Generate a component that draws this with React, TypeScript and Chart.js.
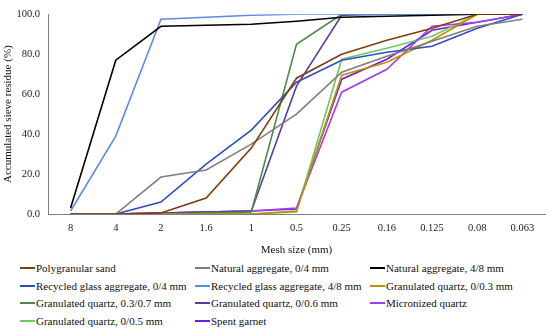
import React, { useEffect, useRef } from "react";
import { Chart, registerables } from "chart.js";

Chart.register(...registerables);

const categories = ["8", "4", "2", "1.6", "1", "0.5", "0.25", "0.16", "0.125", "0.08", "0.063"];
const yTicks = [0, 20, 40, 60, 80, 100];

const seriesNames = [
  "Polygranular sand",
  "Natural aggregate, 0/4 mm",
  "Natural aggregate, 4/8 mm",
  "Recycled glass aggregate, 0/4 mm",
  "Recycled glass aggregate, 4/8 mm",
  "Granulated quartz, 0/0.3 mm",
  "Granulated quartz, 0.3/0.7 mm",
  "Granulated quartz, 0/0.6 mm",
  "Micronized quartz",
  "Granulated quartz, 0/0.5 mm",
  "Spent garnet",
];

const polygranularSand = [0, 0, 0.5, 8, 33, 68, 80, 87, 93, 100, 100];
const naturalAgg04 = [0, 0, 18.5, 22, 35, 50, 71, 79, 86.5, 94, 97.5];
const naturalAgg48 = [3, 77, 94, 94.5, 95, 96.5, 98.5, 99, 99.5, 100, 100];
const recycledGlass04 = [0, 0, 6, 25, 42, 66, 77, 81, 84, 93, 100];
const recycledGlass48 = [1.5, 39, 97.5, 98.5, 99.5, 100, 100, 100, 100, 100, 100];
const granQuartz003 = [0, 0, 0, 0, 0, 1.5, 69.5, 76, 87, 100, 100];
const granQuartz0307 = [0, 0, 0, 0.5, 1, 85, 100, 100, 100, 100, 100];
const granQuartz006 = [0, 0, 0.5, 1, 1.5, 64, 99.5, 100, 100, 100, 100];
const micronizedQuartz = [0, 0, 0.5, 1, 1.5, 3, 61, 72.5, 94, 96, 100];
const granQuartz005 = [0, 0, 0, 0, 0, 1, 77.5, 83, 89, 100, 100];
const spentGarnet = [0, 0, 0.5, 1, 1.5, 2.5, 67.5, 77.5, 92, 96, 100];

const seriesValues = [
  polygranularSand,
  naturalAgg04,
  naturalAgg48,
  recycledGlass04,
  recycledGlass48,
  granQuartz003,
  granQuartz0307,
  granQuartz006,
  micronizedQuartz,
  granQuartz005,
  spentGarnet,
];

const seriesColors = [
  "#843C0C",
  "#7F7F7F",
  "#000000",
  "#2F4FBF",
  "#5A8CE6",
  "#BF9000",
  "#4C8A45",
  "#5E3A9E",
  "#A040E8",
  "#6CCB5F",
  "#6A1EF0",
];

const FONT = "'Liberation Serif', 'Times New Roman', serif";

export default function App() {
  const ref = useRef<HTMLCanvasElement | null>(null);

  useEffect(() => {
    if (!ref.current) return;
    const chart = new Chart(ref.current, {
      type: "line",
      data: {
        labels: categories,
        datasets: seriesValues.map((vals, i) => ({
          label: seriesNames[i],
          data: vals,
          borderColor: seriesColors[i],
          backgroundColor: seriesColors[i],
          borderWidth: 1.6,
          pointRadius: 0,
          tension: 0,
          fill: false,
        })),
      },
      options: {
        animation: false,
        responsive: false,
        maintainAspectRatio: false,
        layout: { padding: { top: 11, right: 5, left: 0, bottom: 0 } },
        plugins: { legend: { display: false }, tooltip: { enabled: false } },
        scales: {
          x: {
            offset: true,
            grid: { display: false, drawTicks: false },
            border: { display: true, color: "#808080", width: 1 },
            ticks: { color: "#222", font: { family: FONT, size: 10.5 }, padding: 8, maxRotation: 0, autoSkip: false },
            title: { display: true, text: "Mesh size (mm)", color: "#111", font: { family: FONT, size: 11 }, padding: { top: 2, bottom: 3 } },
            afterFit: (s: any) => { s.height = 46; },
          },
          y: {
            min: 0,
            max: 100,
            afterBuildTicks: (s: any) => { s.ticks = yTicks.map((v) => ({ value: v })); },
            grid: { display: false, drawTicks: false },
            border: { display: true, color: "#808080", width: 1 },
            ticks: { color: "#222", font: { family: FONT, size: 10.5 }, padding: 8, callback: (v: any) => Number(v).toFixed(1) },
            title: { display: true, text: "Accumulated sieve residue (%)", color: "#111", font: { family: FONT, size: 11 }, padding: { top: 2, bottom: 2 } },
            afterFit: (s: any) => { s.width = 48; },
          },
        },
      },
    });
    return () => chart.destroy();
  }, []);

  const colLeft = [20, 195, 370];
  const rowTop = [268.3, 285.8, 303.3, 320.8];

  return (
    <div style={{ position: "relative", width: 550, height: 333, background: "#fff", fontFamily: FONT }}>
      <style>{"body{margin:0;}"}</style>
      <canvas ref={ref} width={550} height={260} style={{ position: "absolute", left: 0, top: 0, width: 550, height: 260 }} />
      {seriesNames.map((name, i) => {
        const col = i % 3;
        const row = Math.floor(i / 3);
        return (
          <div
            key={name}
            style={{
              position: "absolute",
              left: colLeft[col],
              top: rowTop[row] - 7,
              height: 14,
              display: "flex",
              alignItems: "center",
              whiteSpace: "nowrap",
              fontSize: 11,
              color: "#111",
            }}
          >
            <span style={{ display: "inline-block", width: 15, height: 2, background: seriesColors[i], marginRight: 1 }} />
            <span>{name}</span>
          </div>
        );
      })}
    </div>
  );
}
